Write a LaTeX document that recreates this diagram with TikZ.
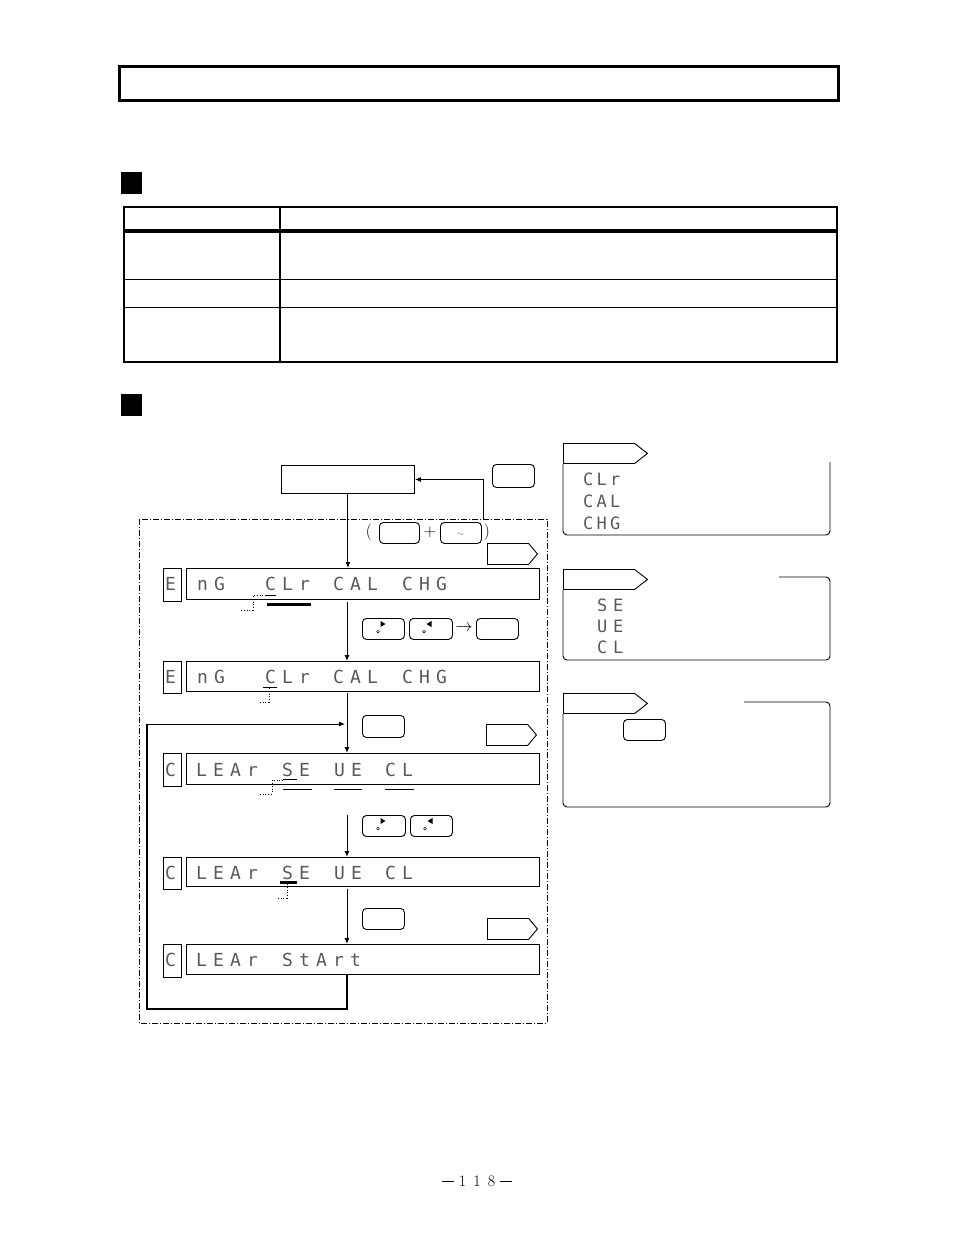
\documentclass[tikz,border=0pt]{standalone}
\usepackage{fontspec}
\usetikzlibrary{arrows.meta,shapes.symbols,calc}
\newfontfamily\segfont{DejaVu Sans Mono}
\newlength\segpitch
\setlength\segpitch{17pt}
\def\segloop#1{\ifx\relax#1\else\makebox[\segpitch][l]{#1}\expandafter\segloop\fi}
\newcommand\sg[1]{\segloop#1\relax}
\newcommand\pgdash{\makebox[14.5pt]{\rule[4.2pt]{12pt}{0.7pt}}}
\begin{document}
\begin{tikzpicture}[x=1pt,y=-1pt,
  box/.style={draw, line width=0.9pt, inner sep=0pt, anchor=north west},
  keybox/.style={draw, rounded corners=4pt, line width=0.9pt, inner sep=0pt, anchor=north west},
  tagbox/.style={draw, shape=signal, signal to=east, signal pointer angle=100, line width=0.9pt, inner sep=0pt, anchor=north west},
  sidetag/.style={tagbox, signal pointer angle=76},
  seg/.style={font=\segfont\fontsize{18}{18}\selectfont, text=black!65, inner sep=0pt, anchor=base west},
  segs/.style={font=\segfont\fontsize{17}{17}\selectfont\setlength\segpitch{13.5pt}, text=black!65, inner sep=0pt, anchor=base west},
  segm/.style={font=\segfont\fontsize{17}{17}\selectfont\setlength\segpitch{16pt}, text=black!65, inner sep=0pt, anchor=base west},
  arr/.style={line width=1pt, -{Latex[length=6pt,width=5pt]}},
  dotl/.style={dotted, line width=0.8pt},
  sym/.style={inner sep=0pt, font=\fontsize{17}{17}\selectfont},
  blk/.style={fill=black, draw=none, inner sep=0pt, anchor=north west, minimum width=21pt, minimum height=22pt}
]
\useasboundingbox (0,0) rectangle (954,1235);
% title frame
\node[draw, line width=3pt, inner sep=0pt, anchor=north west, minimum width=719pt, minimum height=34pt] (title) at (117.5,64.5) {};
% section squares
\node[blk] (sq1) at (121,172) {};
\node[blk] (sq2) at (121,394) {};
% table
\draw[line width=2.5pt] (124,207) rectangle (837,362);
\draw[line width=1.5pt] (280,207) -- (280,362);
\draw[line width=3.5pt] (124,231) -- (837,231);
\draw[line width=1.5pt] (124,279.5) -- (837,279.5);
\draw[line width=1.5pt] (124,307.5) -- (837,307.5);
% start box and esc key
\node[box, minimum width=133pt, minimum height=28pt] (start) at (281,465) {};
\node[keybox, minimum width=42pt, minimum height=23pt] (kesc) at (492,464) {};
% dash-dot frame
\draw[line width=0.9pt, dash pattern=on 6pt off 2pt on 1pt off 2pt] (139,519) rectangle (547,1023);
\coordinate (ret) at (483,519);
\draw[arr] (ret) |- (start.east);
% key combo
\node[sym] (lp) at (369,532) {(};
\node[keybox, minimum width=40pt, minimum height=21pt] (kc1) at (379,522) {};
\node[sym] (plus) at (430,532) {+};
\node[keybox, minimum width=41pt, minimum height=21pt] (kc2) at (440,522) {};
\node[inner sep=0pt, text=black!60, font=\small] (tilde) at (460.5,535) {$\sim$};
\node[sym] (rp) at (487,532) {)};
\node[tagbox, minimum width=50pt, minimum height=21pt] (tag1) at (487,543) {};
% display 1
\node[box, minimum width=18pt, minimum height=33pt] (s1) at (163,568) {};
\node[box, minimum width=353pt, minimum height=31pt] (d1) at (186,568) {};
\node[seg] (s1t) at (165,590) {\sg{E}};
\node[seg] (d1a) at (197,590) {\sg{nG}};
\node[seg] (d1b) at (265,590) {\sg{CLr}};
\node[seg] (d1c) at (333,590) {\sg{CAL}};
\node[seg] (d1d) at (402,590) {\sg{CHG}};
\draw[line width=1pt] (266,595) -- (276,595);
\draw[dotl] (266,595) -| (253,610) -- (241,610);
\draw[line width=2.5pt] (267,604.5) -- (311,604.5);
\draw[arr] (start.south) -- (start.south |- d1.north);
% keys row 2
\node[keybox, minimum width=42pt, minimum height=21pt] (kr1) at (362,618) {};
\node[keybox, minimum width=43pt, minimum height=21pt] (kl1) at (409,618) {};
\node[sym] (to1) at (464,628) {$\rightarrow$};
\node[keybox, minimum width=42pt, minimum height=21pt] (kent) at (476,618) {};
% display 2
\node[box, minimum width=18pt, minimum height=32pt] (s2) at (163,661) {};
\node[box, minimum width=353pt, minimum height=30pt] (d2) at (186,661) {};
\node[seg] (s2t) at (165,683) {\sg{E}};
\node[seg] (d2a) at (197,683) {\sg{nG}};
\node[seg] (d2b) at (265,683) {\sg{CLr}};
\node[seg] (d2c) at (333,683) {\sg{CAL}};
\node[seg] (d2d) at (402,683) {\sg{CHG}};
\draw[line width=1pt] (263,687.5) -- (277,687.5);
\draw[dotl] (269,688) -- (269,702) -- (258,702);
\coordinate (a2s) at (347,602);
\draw[arr] (a2s) -- (a2s |- d2.north);
% set key, tag 2
\node[keybox, minimum width=42pt, minimum height=22pt] (kset1) at (362,715) {};
\node[tagbox, minimum width=50pt, minimum height=21pt] (tag2) at (486,724) {};
% display 3
\node[box, minimum width=18pt, minimum height=33pt] (s3) at (163,753) {};
\node[box, minimum width=353pt, minimum height=31pt] (d3) at (186,753) {};
\node[seg] (s3t) at (165,776) {\sg{C}};
\node[seg] (d3a) at (196,776) {\sg{LEAr}};
\node[seg] (d3b) at (282,776) {\sg{SE}};
\node[seg] (d3c) at (334,776) {\sg{UE}};
\node[seg] (d3d) at (385,776) {\sg{CL}};
\draw[line width=1pt] (283,779.5) -- (297,779.5);
\draw[dotl] (283,780) -| (272,794) -- (258,794);
\draw[line width=1pt] (283,789) -- (312,789);
\draw[line width=1pt] (334,789) -- (362,789);
\draw[line width=1pt] (385,789) -- (414,789);
\coordinate (a3s) at (347,693);
\draw[arr] (a3s) -- (a3s |- d3.north);
% keys row 4
\node[keybox, minimum width=43pt, minimum height=21pt] (kr2) at (362,815) {};
\node[keybox, minimum width=42pt, minimum height=21pt] (kl2) at (410,815) {};
% display 4
\node[box, minimum width=18pt, minimum height=32pt] (s4) at (163,857) {};
\node[box, minimum width=353pt, minimum height=29pt] (d4) at (186,857) {};
\node[seg] (s4t) at (165,879) {\sg{C}};
\node[seg] (d4a) at (196,879) {\sg{LEAr}};
\node[seg] (d4b) at (282,879) {\sg{SE}};
\node[seg] (d4c) at (334,879) {\sg{UE}};
\node[seg] (d4d) at (385,879) {\sg{CL}};
\draw[line width=2.5pt] (280,882.5) -- (297,882.5);
\draw[dotl] (287,884) -- (287,898) -- (276,898);
\coordinate (a4s) at (347,815);
\draw[arr] (a4s) -- (a4s |- d4.north);
% set key 2, tag 3
\node[keybox, minimum width=42pt, minimum height=21pt] (kset2) at (362,908) {};
\node[tagbox, minimum width=50pt, minimum height=21pt] (tag3) at (487,918) {};
% display 5
\node[box, minimum width=18pt, minimum height=33pt] (s5) at (163,944) {};
\node[box, minimum width=353pt, minimum height=30pt] (d5) at (186,944) {};
\node[seg] (s5t) at (165,966) {\sg{C}};
\node[seg] (d5a) at (196,966) {\sg{LEAr}};
\node[seg] (d5b) at (282,966) {\sg{StArt}};
\coordinate (a5s) at (347,889);
\draw[arr] (a5s) -- (a5s |- d5.north);
% loop back
\coordinate (lp1) at (347,1009);
\coordinate (lp2) at (147,724);
\draw[line width=1.8pt] (347,974) -- (lp1) -| (lp2);
\draw[arr] (lp2) -- (345,724);
% arrow glyphs in keys
\foreach \k in {kr1,kr2}{
  \fill ($(\k.north west)+(18.5,3)$) -- ($(\k.north west)+(23.5,6)$) -- ($(\k.north west)+(18.5,9)$) -- cycle;
  \draw[line width=0.5pt] ($(\k.north west)+(16,13.5)$) circle (1.4pt);
}
\foreach \k in {kl1,kl2}{
  \fill ($(\k.north west)+(22.5,3)$) -- ($(\k.north west)+(17.5,6)$) -- ($(\k.north west)+(22.5,9)$) -- cycle;
  \draw[line width=0.5pt] ($(\k.north west)+(15,13.5)$) circle (1.4pt);
}
% side panel 1
\node[sidetag, minimum width=84pt, minimum height=20pt] (tagA) at (563,443) {};
\draw[line width=0.9pt, rounded corners=4pt] (830,462) -- (830,535) -- (563,535) -- (tagA.south west);
\node[segs] (pa1) at (583,485) {\sg{CLr}};
\node[segs] (pa2) at (583,507) {\sg{CAL}};
\node[segs] (pa3) at (583,529) {\sg{CHG}};
% side panel 2
\node[sidetag, minimum width=84pt, minimum height=20pt] (tagB) at (563,569) {};
\draw[line width=0.9pt, rounded corners=4pt] (779,577) -- (830,577) -- (830,660) -- (563,660) -- (tagB.south west);
\node[segm] (pb1) at (597,611) {\sg{SE}};
\node[segm] (pb2) at (597,632) {\sg{UE}};
\node[segm] (pb3) at (597,653) {\sg{CL}};
% side panel 3
\node[sidetag, minimum width=84pt, minimum height=20pt] (tagC) at (563,693) {};
\draw[line width=0.9pt, rounded corners=4pt] (744,702) -- (830,702) -- (830,807) -- (563,807) -- (tagC.south west);
\node[keybox, minimum width=42pt, minimum height=21pt] (kset3) at (623,719) {};
% page number
\node[inner sep=0pt, font=\fontsize{16}{16}\selectfont] (pageno) at (477,1181) {\pgdash\makebox[14.5pt]{1}\makebox[14.5pt]{1}\makebox[14.5pt]{8}\pgdash};
\end{tikzpicture}
\end{document}
